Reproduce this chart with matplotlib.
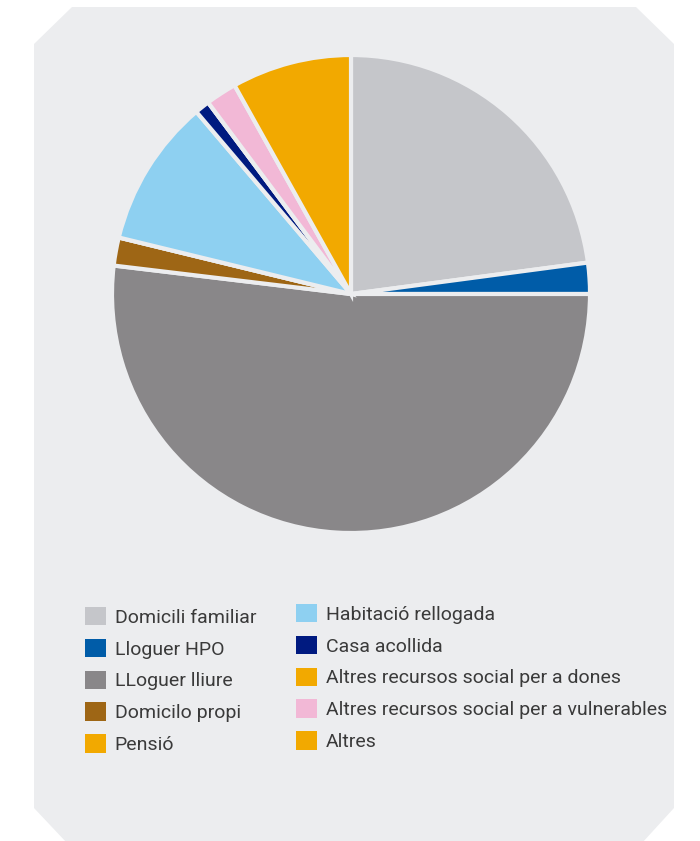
import numpy as np
import matplotlib
matplotlib.use('Agg')
import matplotlib.pyplot as plt
from matplotlib.patches import Polygon, Patch

# share of each housing situation (%), clockwise from the top
labels = ['Domicili familiar', 'Lloguer HPO', 'LLoguer lliure', 'Domicilo propi', 'Pensió',
          'Habitació rellogada', 'Casa acollida', 'Altres recursos social per a dones',
          'Altres recursos social per a vulnerables', 'Altres']
values = [22.9, 2.1, 51.9, 1.9, 0.0, 10.0, 1.0, 0.0, 2.1, 8.1]
colors = ['#c5c6ca', '#005ca8', '#898789', '#9e6615', '#f2a900',
          '#8ed0f1', '#001a80', '#f2a900', '#f2b8d6', '#f2a900']

panel_color = '#ecedef'
text_color = '#3a3a3a'

W, H = 700, 841
fig = plt.figure(figsize=(W / 100, H / 100), dpi=100)
fig.patch.set_facecolor('white')

# background panel with cut corners, in pixel coords
bg = fig.add_axes([0, 0, 1, 1])
bg.set_xlim(0, W)
bg.set_ylim(H, 0)
bg.axis('off')
panel = [(34, 44), (72, 7), (636, 7), (674, 44), (674, 808), (642, 843),
         (67, 843), (34, 808)]
bg.add_patch(Polygon(panel, closed=True, facecolor=panel_color, edgecolor='none'))

# pie
cx, cy, r = 351, 294, 239
ax = fig.add_axes([(cx - r) / W, (H - cy - r) / H, 2 * r / W, 2 * r / H])
ax.pie(values, colors=colors, startangle=90, counterclock=False, radius=1,
       wedgeprops=dict(edgecolor=panel_color, linewidth=3, joinstyle='miter'))
ax.set_xlim(-1, 1)
ax.set_ylim(-1, 1)
ax.axis('off')

handles = [Patch(facecolor=c, edgecolor='none') for c in colors]
font = dict(family=['Roboto', 'DejaVu Sans'], size=14, weight='normal')

leg_kw = dict(frameon=False, handlelength=1.07, handleheight=1.07, handletextpad=0.45,
              labelspacing=0.62, borderpad=0, borderaxespad=0, loc='upper left',
              labelcolor=text_color, prop=font)
leg1 = fig.legend(handles[:5], labels[:5], bbox_to_anchor=(85 / W, 1 - 607 / H), **leg_kw)
leg2 = fig.legend(handles[5:], labels[5:], bbox_to_anchor=(296 / W, 1 - 604 / H), **leg_kw)

fig.savefig('out.png', dpi=100, facecolor='white')
